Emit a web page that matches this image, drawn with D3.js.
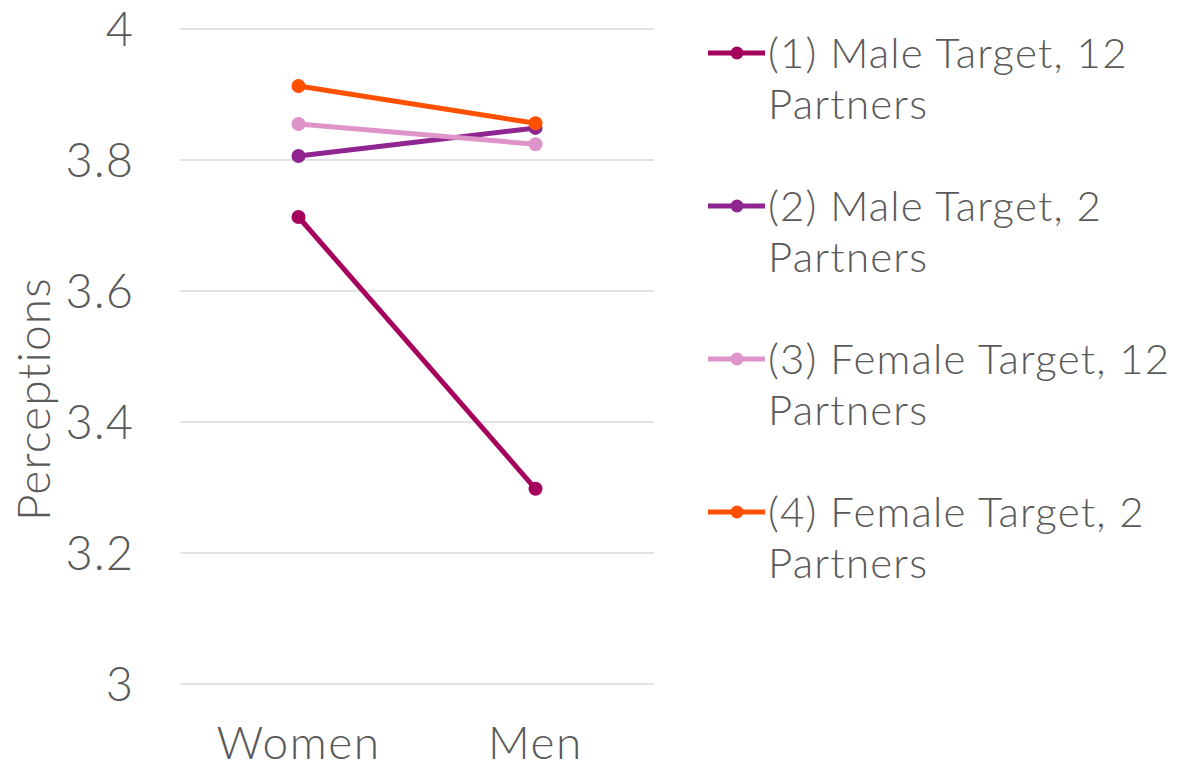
<!DOCTYPE html>
<html>
<head>
<meta charset="utf-8">
<script src="https://cdn.jsdelivr.net/npm/d3@7"></script>
<style>
  body { margin: 0; background: #fff; }
  svg text { font-family: Lato, "Open Sans", sans-serif; font-weight: 300; fill: #595959; }
</style>
</head>
<body>
<svg id="chart" width="1183" height="769"></svg>
<script>
// categories along x
var groups = ['Women', 'Men'];
// series names (legend wraps in two lines)
var seriesNames = [
  ['(1) Male Target, 12', 'Partners'],
  ['(2) Male Target, 2', 'Partners'],
  ['(3) Female Target, 12', 'Partners'],
  ['(4) Female Target, 2', 'Partners']
];
var seriesValues = [
  [3.713, 3.298],
  [3.806, 3.849],
  [3.855, 3.824],
  [3.913, 3.856]
];
var seriesColors = ['#a6035d', '#8e2590', '#de94c8', '#ff5000'];
var yTicks = [3, 3.2, 3.4, 3.6, 3.8, 4];

var svg = d3.select('#chart');

var plotLeft = 180, plotRight = 654;
var plotTop = 29, plotBottom = 684;

var x = d3.scalePoint().domain(groups).range([plotLeft, plotRight]).padding(0.5);
var y = d3.scaleLinear().domain([3, 4]).range([plotBottom, plotTop]);

// gridlines
svg.append('g').selectAll('line')
  .data(yTicks).enter().append('line')
  .attr('x1', plotLeft).attr('x2', plotRight)
  .attr('y1', function (d) { return y(d); })
  .attr('y2', function (d) { return y(d); })
  .attr('stroke', '#d9d9d9').attr('stroke-width', 1.3);

// y tick labels
svg.append('g').selectAll('text')
  .data(yTicks).enter().append('text')
  .attr('x', 134)
  .attr('y', function (d) { return y(d); })
  .attr('dy', '0.36em')
  .attr('text-anchor', 'end')
  .style('font-size', '47px')
  .style('letter-spacing', '1px')
  .text(function (d) { return d3.format('')(d); });

// x labels
svg.append('g').selectAll('text')
  .data(groups).enter().append('text')
  .attr('x', function (d) { return x(d); })
  .attr('y', 759)
  .attr('text-anchor', 'middle')
  .style('font-size', '46px')
  .style('letter-spacing', '1.5px')
  .text(function (d) { return d; });

// y axis title
svg.append('text')
  .attr('transform', 'translate(50,399) rotate(-90)')
  .attr('text-anchor', 'middle')
  .style('font-size', '46px')
  .style('letter-spacing', '1.2px')
  .text('Perceptions');

var line = d3.line()
  .x(function (d, i) { return x(groups[i]); })
  .y(function (d) { return y(d); });

seriesValues.forEach(function (vals, s) {
  var g = svg.append('g');
  g.append('path')
    .attr('d', line(vals))
    .attr('fill', 'none')
    .attr('stroke', seriesColors[s])
    .attr('stroke-width', 5);
  g.selectAll('circle')
    .data(vals).enter().append('circle')
    .attr('cx', function (d, i) { return x(groups[i]); })
    .attr('cy', function (d) { return y(d); })
    .attr('r', 7)
    .attr('fill', seriesColors[s]);
});

// legend
var legend = svg.append('g').selectAll('g')
  .data(seriesNames).enter().append('g')
  .attr('transform', function (d, i) { return 'translate(708,' + (53 + i * 153) + ')'; });

legend.append('line')
  .attr('x1', 0).attr('x2', 57)
  .attr('stroke', function (d, i) { return seriesColors[i]; })
  .attr('stroke-width', 5);
legend.append('circle')
  .attr('cx', 29).attr('r', 6.5)
  .attr('fill', function (d, i) { return seriesColors[i]; });
legend.append('text')
  .attr('x', 60)
  .attr('y', 15)
  .style('font-size', '42px')
  .style('letter-spacing', '1.2px')
  .text(function (d) { return d[0]; });
legend.append('text')
  .attr('x', 60)
  .attr('y', 66)
  .style('font-size', '42px')
  .style('letter-spacing', '1.2px')
  .text(function (d) { return d[1]; });
</script>
</body>
</html>
